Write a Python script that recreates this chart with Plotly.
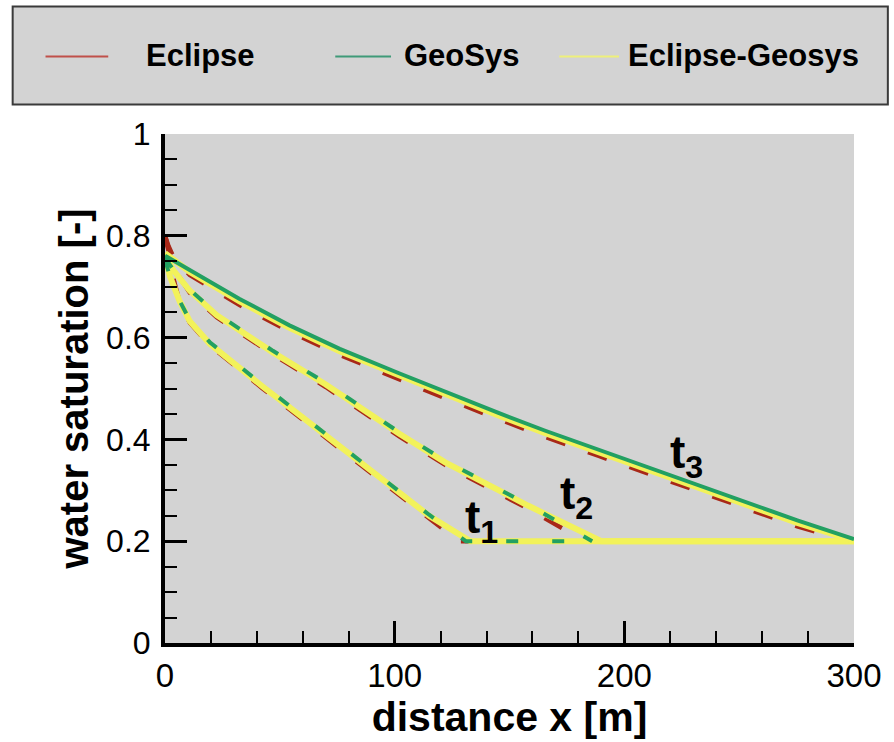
import plotly.graph_objects as go

# ---- data -------------------------------------------------------------
series_names = ["Eclipse", "GeoSys", "Eclipse-Geosys"]
time_labels = ["t<sub>1</sub>", "t<sub>2</sub>", "t<sub>3</sub>"]

# GeoSys
geo_t1_x = [0, 2.2, 6.5, 10.8, 19.5, 32.5, 42.5, 58.5, 80.2, 93.2, 115, 131, 186]
geo_t1_y = [0.753, 0.719, 0.671, 0.634, 0.591, 0.543, 0.507, 0.451, 0.376, 0.329, 0.252, 0.200, 0.200]
geo_t2_x = [0, 3.5, 10.8, 22.5, 47, 70, 102, 122, 158, 186]
geo_t2_y = [0.757, 0.734, 0.694, 0.647, 0.574, 0.511, 0.414, 0.358, 0.272, 0.200]
geo_t3_x = [0, 10.8, 32.5, 54.2, 76.1, 101.9, 123.6, 145.2, 165.6, 188.6, 210.3, 232, 253.6, 275.3, 300]
geo_t3_y = [0.761, 0.733, 0.676, 0.624, 0.578, 0.530, 0.490, 0.452, 0.417, 0.380, 0.345, 0.311, 0.276, 0.241, 0.204]

# Eclipse
ecl_t1_x = [0, 1.5, 4, 6.5, 10.8, 19.5, 32.5, 42.5, 58.5, 80.2, 93.2, 115, 128, 300]
ecl_t1_y = [0.800, 0.770, 0.710, 0.668, 0.629, 0.585, 0.537, 0.500, 0.444, 0.369, 0.322, 0.245, 0.200, 0.200]
ecl_t2_x = [0, 1.5, 4, 10.8, 22.5, 47, 70, 102, 122, 158, 183, 300]
ecl_t2_y = [0.800, 0.775, 0.735, 0.688, 0.640, 0.567, 0.503, 0.406, 0.350, 0.264, 0.200, 0.200]
ecl_t3_x = [0, 1.5, 4, 10.8, 32.5, 54.2, 76.1, 101.9, 123.6, 145.2, 165.6, 188.6, 210.3, 232, 253.6, 275.3, 298, 300]
ecl_t3_y = [0.800, 0.780, 0.755, 0.723, 0.664, 0.612, 0.566, 0.518, 0.478, 0.440, 0.405, 0.368, 0.333, 0.299, 0.264, 0.229, 0.200, 0.200]

# Eclipse-Geosys
eg_t1_x = [0, 2.2, 6.5, 10.8, 19.5, 32.5, 42.5, 58.5, 80.2, 93.2, 115, 133, 300]
eg_t1_y = [0.758, 0.720, 0.670, 0.632, 0.588, 0.540, 0.504, 0.448, 0.373, 0.326, 0.250, 0.200, 0.200]
eg_t2_x = [0, 3.5, 10.8, 22.5, 47, 70, 102, 122, 158, 190, 300]
eg_t2_y = [0.762, 0.733, 0.692, 0.644, 0.571, 0.508, 0.411, 0.355, 0.270, 0.200, 0.200]
eg_t3_x = [0, 10.8, 32.5, 54.2, 76.1, 101.9, 123.6, 145.2, 165.6, 188.6, 210.3, 232, 253.6, 275.3, 300]
eg_t3_y = [0.766, 0.729, 0.671, 0.619, 0.573, 0.525, 0.485, 0.447, 0.412, 0.375, 0.340, 0.306, 0.271, 0.236, 0.201]

label_x = [137.8, 179.0, 227.0]
label_y = [0.241, 0.287, 0.368]

x_ticks = [0, 100, 200, 300]
y_ticks = [0, 0.2, 0.4, 0.6, 0.8, 1]
y_tick_text = ["0", "0.2", "0.4", "0.6", "0.8", "1"]

# ---- styling ----------------------------------------------------------
RED = "#a82818"
GREEN = "#22a062"
YELLOW = "#f2f25a"
BG = "#d3d3d3"
FONT = "Liberation Sans, Arial, sans-serif"

W, H = 894, 742
L, R, T, B = 165, 37, 134, 89
PW, PH = W - L - R, H - T - B


def px(xp):
    return (xp - L) / PW


def py(yp):
    return (H - B - yp) / PH


fig = go.Figure()

# Eclipse (dashed red) underneath
for xs, ys in [(ecl_t1_x, ecl_t1_y), (ecl_t2_x, ecl_t2_y), (ecl_t3_x, ecl_t3_y)]:
    fig.add_trace(go.Scatter(x=xs, y=ys, mode="lines", name=series_names[0],
                             line=dict(color=RED, width=4.5, dash="20px,24px"),
                             showlegend=False))

# Eclipse-Geosys (thick yellow)
for xs, ys in [(eg_t1_x, eg_t1_y), (eg_t2_x, eg_t2_y), (eg_t3_x, eg_t3_y)]:
    fig.add_trace(go.Scatter(x=xs, y=ys, mode="lines", name=series_names[2],
                             line=dict(color=YELLOW, width=6),
                             showlegend=False))

# GeoSys (green) on top
geo_dash = ["12px,34px", "12px,34px", "solid"]
for (xs, ys), d in zip([(geo_t1_x, geo_t1_y), (geo_t2_x, geo_t2_y), (geo_t3_x, geo_t3_y)], geo_dash):
    fig.add_trace(go.Scatter(x=xs, y=ys, mode="lines", name=series_names[1],
                             line=dict(color=GREEN, width=4, dash=d),
                             showlegend=False))

# time labels
for lx, ly, txt in zip(label_x, label_y, time_labels):
    fig.add_annotation(x=lx, y=ly, text="<b>" + txt + "</b>", showarrow=False,
                       xanchor="center", yanchor="middle",
                       font=dict(family=FONT, size=46, color="black"))

# legend box drawn in paper space
shapes = [dict(type="rect", xref="paper", yref="paper",
               x0=px(12), x1=px(891), y0=py(104), y1=py(4),
               fillcolor=BG, line=dict(color="#3a3a3a", width=2), layer="below")]
leg_lines = [(45, 108, "#c0504a"), (336, 392, "#3f9a78"), (561, 621, "#eef07a")]
leg_text_x = [144, 403, 628]
for (a, b, c) in leg_lines:
    shapes.append(dict(type="line", xref="paper", yref="paper",
                       x0=px(a), x1=px(b), y0=py(55), y1=py(55),
                       line=dict(color=c, width=2)))
for tx, name in zip(leg_text_x, series_names):
    fig.add_annotation(xref="paper", yref="paper", x=px(tx), y=py(54),
                       text="<b>" + name + "</b>", showarrow=False,
                       xanchor="left", yanchor="middle",
                       font=dict(family=FONT, size=31, color="black"))

fig.update_layout(
    width=W, height=H,
    margin=dict(l=L, r=R, t=T, b=B, pad=0),
    paper_bgcolor="white", plot_bgcolor=BG,
    shapes=shapes,
    font=dict(family=FONT, color="black"),
)

fig.update_xaxes(
    range=[0, 300], tickvals=x_ticks, ticks="inside", ticklen=22, tickwidth=3,
    tickcolor="black", showline=True, linecolor="black", linewidth=4,
    showgrid=False, zeroline=False, mirror=False,
    tickfont=dict(family=FONT, size=33),
    minor=dict(dtick=20, ticks="inside", ticklen=12, tickwidth=2, tickcolor="black", showgrid=False),
    title=dict(text="<b>distance x [m]</b>", font=dict(family=FONT, size=41), standoff=8),
)
fig.update_yaxes(
    range=[0, 1], tickvals=y_ticks, ticktext=y_tick_text, ticks="inside", ticklen=22, tickwidth=3,
    tickcolor="black", showline=True, linecolor="black", linewidth=4,
    showgrid=False, zeroline=False, mirror=False,
    tickfont=dict(family=FONT, size=32), ticklabelstandoff=4,
    minor=dict(dtick=0.05, ticks="inside", ticklen=12, tickwidth=2, tickcolor="black", showgrid=False),
    title=dict(text="<b>water saturation [-]</b>", font=dict(family=FONT, size=40), standoff=6),
)

fig.write_html("out.html")
